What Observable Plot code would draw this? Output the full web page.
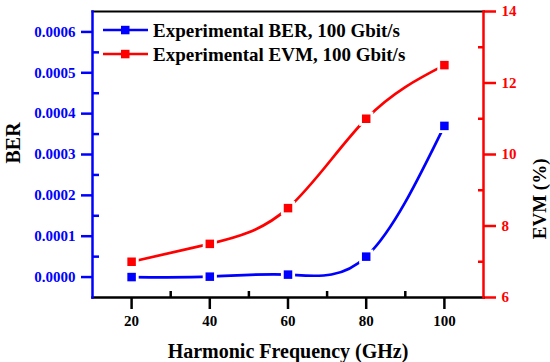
<!DOCTYPE html>
<html><head><meta charset="utf-8">
<script src="https://cdn.jsdelivr.net/npm/d3@7"></script>
<script src="https://cdn.jsdelivr.net/npm/@observablehq/plot@0.6"></script>
<style>body{margin:0;background:#fff}</style>
</head><body><div id="chart"></div>
<script>
const freq = [20, 40, 60, 80, 100];
const ber = [0, 0.000001, 0.000006, 0.00005, 0.00037];
const evm = [7.0, 7.5, 8.5, 11.0, 12.5];
const xTicks = [20, 40, 60, 80, 100];
const xMinor = [30, 50, 70, 90];
const berTicks = [0, 0.0001, 0.0002, 0.0003, 0.0004, 0.0005, 0.0006];
const berMinor = [0.00005, 0.00015, 0.00025, 0.00035, 0.00045, 0.00055];
const evmTicks = [6, 8, 10, 12, 14];
const evmMinor = [7, 9, 11, 13];
const legendLabels = ["Experimental BER, 100 Gbit/s", "Experimental EVM, 100 Gbit/s"];
const xTitle = "Harmonic Frequency (GHz)";
const yTitle = "BER";
const y2Title = "EVM (%)";

const BLUE = "#0000ff", RED = "#ff0000";
const FONT = "'Liberation Serif', 'Times New Roman', serif";
const evmToBer = d3.scaleLinear([6, 14], [-0.00005, 0.00065]);
const berData = freq.map((f, i) => ({f, v: ber[i]}));
const evmData = freq.map((f, i) => ({f, v: evmToBer(evm[i])}));

const plot = Plot.plot({
  width: 550, height: 362,
  marginLeft: 92, marginRight: 67, marginTop: 11, marginBottom: 65,
  style: {fontFamily: FONT, fontWeight: "bold", background: "#fff"},
  x: {domain: [10, 110]},
  y: {domain: [-0.00005, 0.00065]},
  marks: [
    Plot.axisX(xTicks, {anchor: "bottom", tickSize: 12, tickPadding: 6, strokeWidth: 2.5, fontSize: 15, color: "#000", label: null}),
    Plot.axisX(xMinor, {anchor: "bottom", tickSize: -6, tickFormat: () => "", strokeWidth: 2.5, color: "#000", label: null}),
    Plot.axisY(berTicks, {anchor: "left", tickSize: 11, tickPadding: 6, strokeWidth: 2.5, fontSize: 15, color: BLUE, tickFormat: d3.format(".4f"), label: null}),
    Plot.axisY(berMinor, {anchor: "left", tickSize: -7, tickFormat: () => "", strokeWidth: 2.5, color: BLUE, label: null}),
    Plot.axisY(evmTicks.map(evmToBer), {anchor: "right", tickSize: 12, tickPadding: 6, strokeWidth: 2.5, fontSize: 15, color: RED, tickFormat: d => String(Math.round(evmToBer.invert(d))), label: null}),
    Plot.axisY(evmMinor.map(evmToBer), {anchor: "right", tickSize: -6, tickFormat: () => "", strokeWidth: 2.5, color: RED, label: null}),
    Plot.frame({anchor: "top", stroke: "#000", strokeWidth: 2}),
    Plot.frame({anchor: "bottom", stroke: "#000", strokeWidth: 2.5}),
    Plot.frame({anchor: "left", stroke: BLUE, strokeWidth: 2.5}),
    Plot.frame({anchor: "right", stroke: RED, strokeWidth: 2.5}),
    Plot.line(evmData, {x: "f", y: "v", stroke: RED, strokeWidth: 2.7, curve: "natural"}),
    Plot.line(berData, {x: "f", y: "v", stroke: BLUE, strokeWidth: 2.7, curve: "natural"}),
    Plot.dot(evmData, {x: "f", y: "v", symbol: "square", r: 8, fill: "#fff"}),
    Plot.dot(berData, {x: "f", y: "v", symbol: "square", r: 8, fill: "#fff"}),
    Plot.dot(evmData, {x: "f", y: "v", symbol: "square", r: 4.8, fill: RED}),
    Plot.dot(berData, {x: "f", y: "v", symbol: "square", r: 4.8, fill: BLUE}),
    Plot.text([xTitle], {frameAnchor: "bottom", dy: 54, fontSize: 20, fill: "#000", lineAnchor: "middle"}),
    Plot.text([yTitle], {frameAnchor: "left", dx: -79, dy: 9, rotate: -90, fontSize: 20, fill: "#000", lineAnchor: "middle"}),
    Plot.text([y2Title], {frameAnchor: "right", dx: 56, dy: 4, rotate: -90, fontSize: 19, fill: "#000", lineAnchor: "middle"})
  ]
});
document.getElementById("chart").appendChild(plot);

// Legend inside the plot area (top-left)
const svg = d3.select(plot);
const legendColors = [BLUE, RED];
const lg = svg.append("g").attr("text-anchor", "start");
legendLabels.forEach((label, i) => {
  const yy = 30 + i * 24;
  const g = lg.append("g").attr("transform", `translate(0,${yy})`);
  g.append("line").attr("x1", 103).attr("x2", 148).attr("y1", 0).attr("y2", 0)
    .attr("stroke", legendColors[i]).attr("stroke-width", 2.7);
  g.append("rect").attr("x", 121).attr("y", -4.2).attr("width", 8.5).attr("height", 8.5)
    .attr("fill", legendColors[i]);
  g.append("text").attr("x", 153).attr("y", 0).attr("dy", "0.35em")
    .attr("text-anchor", "start")
    .attr("font-family", FONT).attr("font-weight", "bold").attr("font-size", 19)
    .attr("fill", "#000").text(label);
});
</script>
</body></html>
